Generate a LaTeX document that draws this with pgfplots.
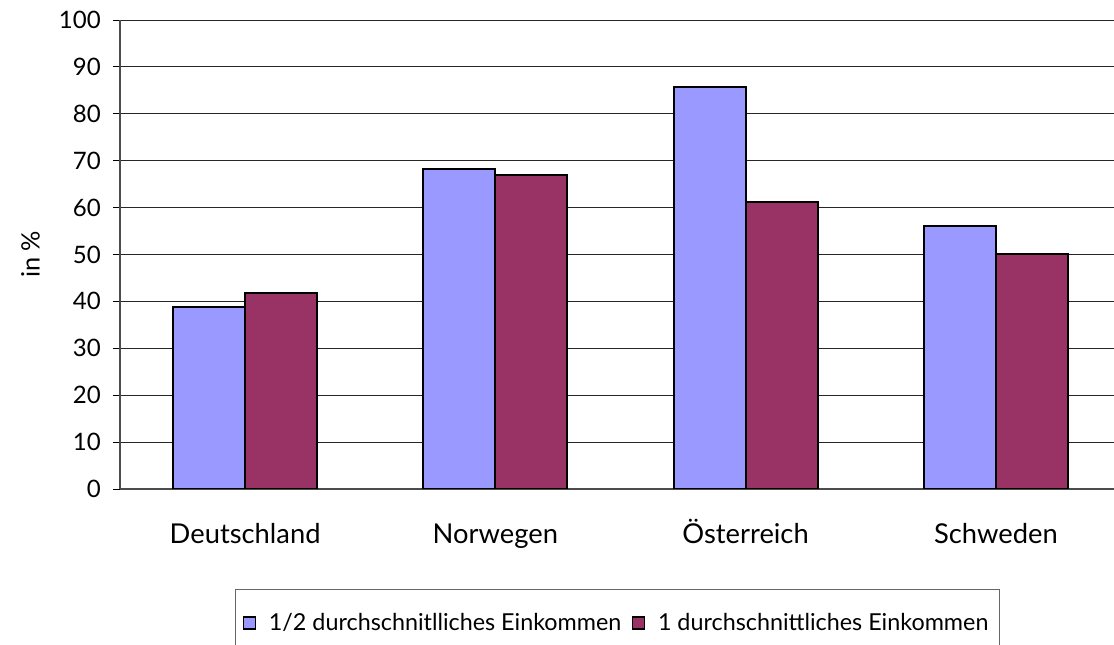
\documentclass[border=0pt]{standalone}
\usepackage{pgfplots}
\pgfplotsset{compat=1.18}
\usepackage{fontspec}
\setmainfont{Lato}
\definecolor{cblue}{HTML}{9999FF}
\definecolor{cred}{HTML}{993366}
\begin{document}
\begin{tikzpicture}
\useasboundingbox (0pt,0pt) rectangle (835.5pt,483.75pt);
\begin{axis}[
  at={(90pt,117pt)}, anchor=south west,
  scale only axis,
  width=750.75pt, height=351.75pt,
  xmin=-0.5, xmax=3.5,
  ymin=0, ymax=100,
  ytick={0,10,...,100},
  xtick={0,1,2,3},
  xticklabels={Deutschland,Norwegen,Österreich,Schweden},
  major x tick style={draw=none},
  extra x ticks={0.5,1.5,2.5},
  extra x tick labels={},
  extra x tick style={tick style={draw=black, line width=0.6pt}, major tick length=5.25pt, grid=none},
  tick align=outside,
  major tick length=5.25pt,
  y tick style={draw=black, line width=0.6pt},
  axis x line*=bottom,
  axis y line*=left,
  axis line style={draw=black!70, line width=1pt, -},
  ymajorgrids,
  major grid style={draw=black!85, line width=0.7pt},
  /pgf/number format/assume math mode=true,
  yticklabel style={font=\fontsize{18}{18}\selectfont, anchor=east, inner sep=0pt, xshift=-9pt},
  xticklabel style={font=\fontsize{20.5}{20.5}\selectfont, anchor=base, inner sep=0pt, yshift=-36pt},
  ylabel={in \%},
  ylabel style={font=\fontsize{19}{19}\selectfont, at={(axis description cs:-0.0895,0.5)}, anchor=center, rotate=0},
  ybar=0pt,
  bar width=54pt,
  legend columns=2,
  legend style={at={(0.4965,0)}, anchor=north, yshift=-75pt, draw=black!60, line width=0.6pt,
    font=\fontsize{17.5}{17.5}\selectfont, inner xsep=6pt, inner ysep=16pt,
    /tikz/every even column/.append style={column sep=6pt}},
  legend image code/.code={\path[draw=none, fill=none] (0pt,0pt) -- (17pt,0pt); \draw[#1, draw=black, line width=1pt] (0pt,-4.5pt) rectangle (9pt,4.5pt);},
]
\addplot[fill=cblue, draw=black, line width=1.5pt] coordinates {(0,38.8) (1,68.2) (2,85.8) (3,56.0)};
\addplot[fill=cred, draw=black, line width=1.5pt] coordinates {(0,41.7) (1,67.0) (2,61.2) (3,50.0)};
\legend{1/2 durchschnitlliches Einkommen, 1 durchschnittliches Einkommen}
\end{axis}
\end{tikzpicture}
\end{document}
